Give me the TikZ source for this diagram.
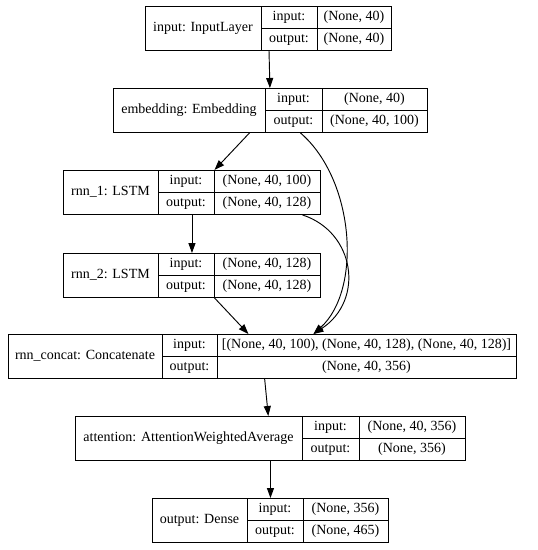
\documentclass[tikz,border=0pt]{standalone}
\usepackage{fontspec}
\setmainfont{Liberation Serif}
\usetikzlibrary{arrows.meta}
\tikzset{edge/.style = {-{Triangle[length = 7.5pt, width = 5.3pt]}}}
\tikzset{box/.style = {draw, rectangle, inner sep = 0, minimum height = 33pt}}
\tikzset{cell/.style = {inner sep = 0, text height = 1.6ex, text depth = 0.45ex,
                        font = \fontsize{10.5}{12}\selectfont}}

% name, left, top, divider 1, divider 2, right, label, input shape, output shape
\newcommand{\layer}[9]{%
  \pgfmathsetmacro{\boxw}{(#6-#2)*0.75}
  \node [box, minimum width = \boxw pt, anchor = north west] (#1) at (#2, #3) {};
  \draw (#4, #3) -- (#4, #3+44);
  \draw (#5, #3) -- (#5, #3+44);
  \draw (#4, #3+22) -- (#6, #3+22);
  \node [cell] (#1-lab) at ({(#2+#4)/2}, #3+22) {#7};
  \node [cell] (#1-ik) at ({(#4+#5)/2}, #3+11) {input:};
  \node [cell] (#1-ok) at ({(#4+#5)/2}, #3+33) {output:};
  \node [cell] (#1-iv) at ({(#5+#6)/2}, #3+11) {#8};
  \node [cell] (#1-ov) at ({(#5+#6)/2}, #3+33) {#9};
}

\begin{document}
\begin{tikzpicture}[x = 0.75pt, y = -0.75pt, line width = 0.7pt]
    \useasboundingbox (0, 0) rectangle (537, 550);

    \layer{input}{145}{6}{261}{317}{391}{input: InputLayer}{(None, 40)}{(None, 40)}
    \layer{embedding}{113}{88}{265}{322}{427}{embedding: Embedding}{(None, 40)}{(None, 40, 100)}
    \layer{rnn1}{63}{170}{158}{214}{320}{rnn\_1: LSTM}{(None, 40, 100)}{(None, 40, 128)}
    \layer{rnn2}{63}{253}{158}{214}{320}{rnn\_2: LSTM}{(None, 40, 128)}{(None, 40, 128)}
    \layer{concat}{8}{334}{162}{217}{516}{rnn\_concat: Concatenate}{[(None, 40, 100), (None, 40, 128), (None, 40, 128)]}{(None, 40, 356)}
    \layer{attention}{75}{416}{302}{359}{465}{attention: AttentionWeightedAverage}{(None, 40, 356)}{(None, 356)}
    \layer{output}{152}{498}{247}{303}{388}{output: Dense}{(None, 356)}{(None, 465)}

    \draw [edge] (input) -- (embedding);
    \draw [edge] ([xshift = -15.75pt]embedding.south) -- ([xshift = 16.9pt]rnn1.north);
    \draw [edge] ([xshift = 22.5pt]embedding.south) .. controls (355, 180) and (362, 290)
                 .. ([xshift = 38.25pt]concat.north);
    \draw [edge] (rnn1) -- (rnn2);
    \draw [edge] ([xshift = 82.9pt]rnn1.south) .. controls (355, 232) and (365, 300)
                 .. ([xshift = 38.25pt]concat.north);
    \draw [edge] ([xshift = 16.9pt]rnn2.south) -- ([xshift = -10.5pt]concat.north);
    \draw [edge] (concat) -- (attention);
    \draw [edge] (attention) -- (output);
\end{tikzpicture}
\end{document}
